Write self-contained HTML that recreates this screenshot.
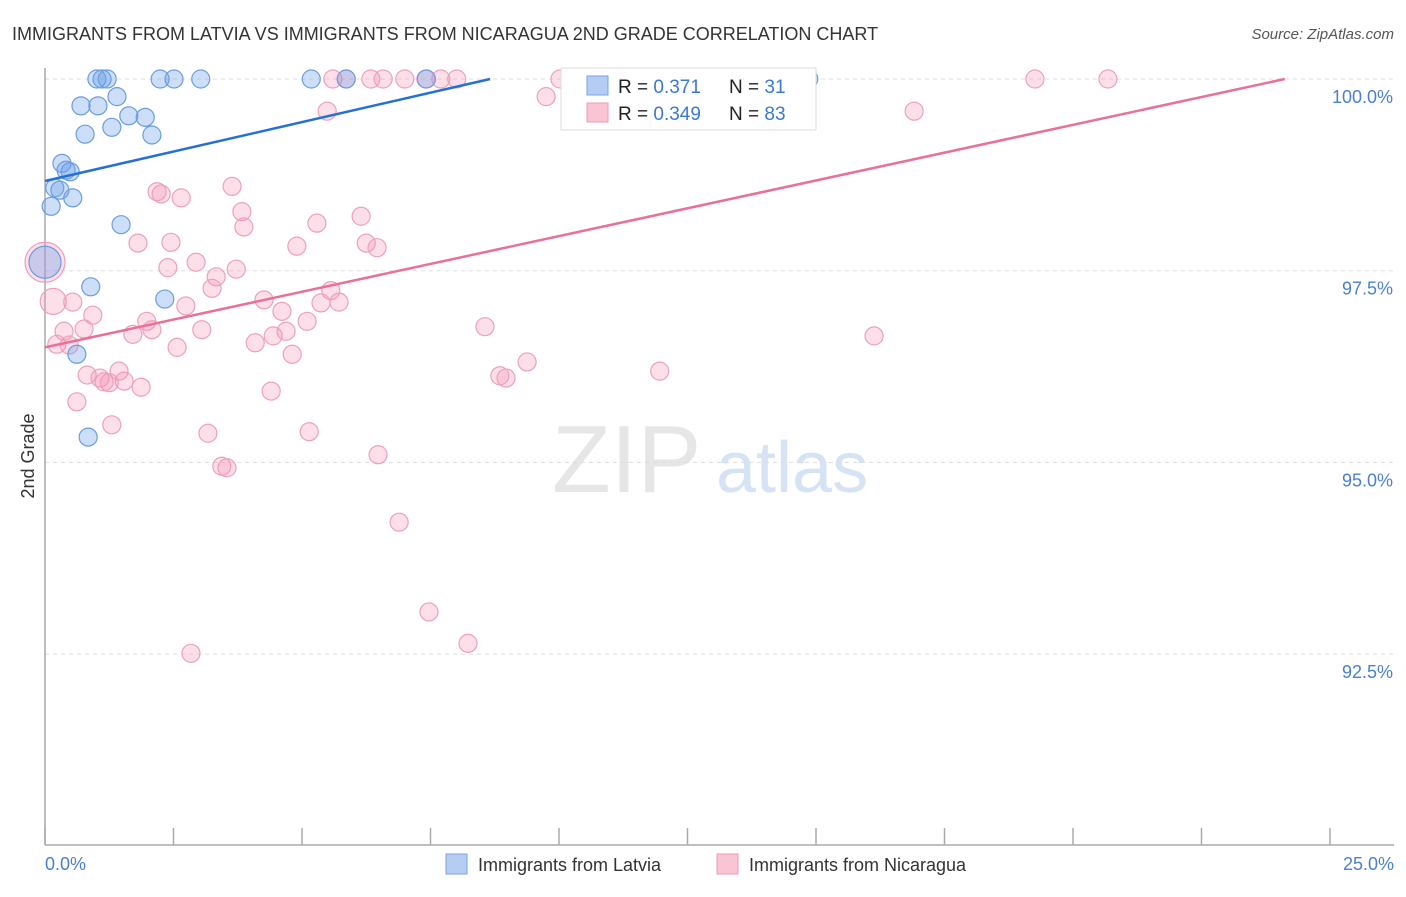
<!DOCTYPE html>
<html><head><meta charset="utf-8">
<style>
body{margin:0;background:#fff;font-family:"Liberation Sans",sans-serif;}
svg text{font-family:"Liberation Sans",sans-serif;}
</style></head>
<body>
<svg id="chart" width="1406" height="892" viewBox="0 0 1406 892">
<text x="12" y="40" font-size="18" fill="#333">IMMIGRANTS FROM LATVIA VS IMMIGRANTS FROM NICARAGUA 2ND GRADE CORRELATION CHART</text>
<text x="1394" y="39" font-size="15" fill="#555" font-style="italic" text-anchor="end">Source: ZipAtlas.com</text>
<g>
<text x="552" y="492" font-size="96" fill="#e6e6e6" font-family="Liberation Serif">ZIP</text>
<text x="716" y="492" font-size="72" fill="#d6e3f5">atlas</text>
</g>
<g id="grid"></g>
<g id="axes"></g>
<g id="pts"></g>
<g id="lines"></g>
<text transform="translate(34,456) rotate(-90)" font-size="18" fill="#333" text-anchor="middle">2nd Grade</text>
<text x="45" y="870" font-size="18" fill="#4a7fd4">0.0%</text>
<text x="1394" y="870" font-size="18" fill="#4a7fd4" text-anchor="end">25.0%</text>
<g>
<rect x="561" y="68" width="255" height="62" fill="#fff" stroke="#ddd"/>
<rect x="587" y="76" width="21" height="19" fill="#b5cdf2" stroke="#7aa3e0"/>
<rect x="587" y="103" width="21" height="19" fill="#f9c5d5" stroke="#eb9ab5"/>
<text x="618" y="93" font-size="19" fill="#222">R = <tspan fill="#3a78d6"> 0.371</tspan></text>
<text x="729" y="93" font-size="19" fill="#222">N = <tspan fill="#3a78d6"> 31</tspan></text>
<text x="618" y="120" font-size="19" fill="#222">R = <tspan fill="#3a78d6">0.349</tspan></text>
<text x="729" y="120" font-size="19" fill="#222">N = <tspan fill="#3a78d6">83</tspan></text>
</g>
<g>
<rect x="446" y="854" width="21" height="20" fill="#b5cdf2" stroke="#7aa3e0"/>
<text x="478" y="871" font-size="18" fill="#333">Immigrants from Latvia</text>
<rect x="717" y="854" width="21" height="20" fill="#f9c5d5" stroke="#eb9ab5"/>
<text x="749" y="871" font-size="18" fill="#333">Immigrants from Nicaragua</text>
</g>
</svg>
<script>
const yTicks=[100,97.5,95,92.5];
const yTickLabels=["100.0%","97.5%","95.0%","92.5%"];
const xTicks=[0,2.5,5,7.5,10,12.5,15,17.5,20,22.5,25];
const latviaX=[1.01,1.11,1.21,2.24,2.51,3.03,5.18,5.86,7.42,14.86,0.70,1.03,1.40,1.63,1.95,1.30,0.78,2.08,0.33,0.41,0.49,0.19,0.29,0.54,0.12,1.48,0.0,0.89,2.33,0.62,0.84];
const latviaY=[100,100,100,100,100,100,100,100,100,100,99.65,99.65,99.77,99.52,99.50,99.37,99.28,99.27,98.90,98.81,98.79,98.58,98.55,98.45,98.34,98.10,97.61,97.29,97.13,96.41,95.33];
const nicX=[5.60,5.86,6.34,6.58,7.00,7.41,7.70,8.01,10.02,19.26,20.68,9.75,5.49,16.91,3.64,2.18,2.26,2.65,3.83,6.15,3.87,5.29,1.81,2.45,4.90,6.25,6.46,0,2.94,2.39,3.72,3.33,3.25,5.56,0.16,0.54,4.26,4.61,5.37,5.72,2.74,5.10,1.98,0.93,2.08,0.37,0.76,1.71,3.05,4.44,4.69,8.56,16.13,0.23,0.47,2.57,4.09,4.81,9.38,11.96,8.85,8.97,0.82,1.07,1.44,1.54,1.25,1.15,1.87,4.40,0.62,1.30,3.17,5.14,6.48,3.44,3.54,6.89,7.47,8.23,2.84];
const nicY=[100,100,100,100,100,100,100,100,100,100,100,99.77,99.58,99.58,98.60,98.53,98.50,98.45,98.27,98.21,98.07,98.12,97.86,97.87,97.82,97.86,97.80,97.61,97.61,97.54,97.52,97.42,97.27,97.24,97.10,97.09,97.12,96.97,97.08,97.09,97.04,96.84,96.84,96.92,96.73,96.71,96.74,96.67,96.73,96.65,96.71,96.77,96.65,96.54,96.53,96.50,96.56,96.41,96.31,96.19,96.13,96.10,96.14,96.10,96.19,96.06,96.04,96.05,95.98,95.93,95.79,95.49,95.38,95.40,95.10,94.95,94.93,94.22,93.05,92.64,92.51];
const latviaTrend=[[0,98.67],[8.66,100]];
const nicTrend=[[0,96.50],[24.12,100]];
const sx=v=>45+v/25*1285;
const sy=v=>79+(100-v)/2.5*191.7;
const NS="http://www.w3.org/2000/svg";
function mk(tag,attrs,parent){const e=document.createElementNS(NS,tag);for(const k in attrs)e.setAttribute(k,attrs[k]);parent.appendChild(e);return e;}
const grid=document.getElementById('grid'),axes=document.getElementById('axes'),pts=document.getElementById('pts'),lines=document.getElementById('lines');
yTicks.forEach((t,i)=>{
 const l=mk('line',{x1:45,x2:1394,y1:sy(t),y2:sy(t),stroke:'#ddd','stroke-dasharray':'4,4'},grid);
 
 
 const tx=mk('text',{x:1393,y:sy(t)+24,'font-size':18,fill:'#4a7fd4','text-anchor':'end'},grid);
 tx.textContent=yTickLabels[i];
 
 
});
const ya=mk('line',{x1:45,x2:45,y1:68,y2:845,stroke:'#aaa','stroke-width':1.5},axes);


const xa=mk('line',{x1:45,x2:1394,y1:845,y2:845,stroke:'#aaa','stroke-width':1.5},axes);


xTicks.forEach(t=>{
 const l=mk('line',{x1:sx(t),x2:sx(t),y1:828,y2:845,stroke:'#aaa','stroke-width':1.5},axes);
 
 
});
nicX.forEach((x,i)=>{
 const r=(x===0)?20:(x<0.2&&nicY[i]>97&&nicY[i]<97.2?13:9);
 const c=mk('circle',{cx:sx(x),cy:sy(nicY[i]),r:r,fill:'rgba(244,150,180,0.3)',stroke:'#eea0ba','stroke-width':1.2},pts);
 
 
});
latviaX.forEach((x,i)=>{
 const r=(x===0)?16:9;
 const c=mk('circle',{cx:sx(x),cy:sy(latviaY[i]),r:r,fill:'rgba(110,160,235,0.35)',stroke:'#6a9de0','stroke-width':1.2},pts);
 
 
});
const lb=mk('line',{x1:sx(latviaTrend[0][0]),y1:sy(latviaTrend[0][1]),x2:sx(latviaTrend[1][0]),y2:sy(latviaTrend[1][1]),stroke:'#2570d8','stroke-width':2.5},lines);


const lp=mk('line',{x1:sx(nicTrend[0][0]),y1:sy(nicTrend[0][1]),x2:sx(nicTrend[1][0]),y2:sy(nicTrend[1][1]),stroke:'#e8709a','stroke-width':2.5},lines);


</script>
</body></html>
